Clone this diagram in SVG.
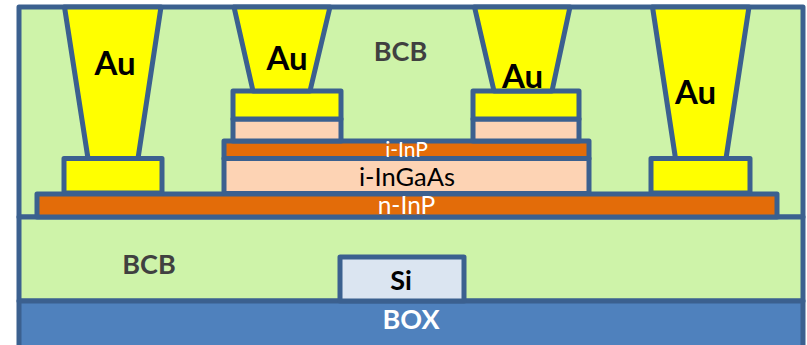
<svg xmlns="http://www.w3.org/2000/svg" width="807" height="345" viewBox="0 0 807 345">
<style>
.s{stroke:#3B608F;stroke-width:5;stroke-linejoin:round}
.g{fill:#CEF3A9}.y{fill:#FFFF00}.p{fill:#FDD3B4}.o{fill:#E36C09}
text{font-family:"Lato","Open Sans","Liberation Sans",sans-serif;text-anchor:middle}
.b{font-weight:700}
.au{font-size:33px;fill:#000;font-weight:700}
.bcb{font-size:27px;fill:#404040;font-weight:700}
.w{fill:#fff}
</style>
<rect width="807" height="345" fill="#fff"/>
<g id="bcb-upper"><rect class="s g" x="19" y="7" width="784" height="210"/><text class="bcb" x="400.500" y="61">BCB</text></g>
<g id="bcb-lower"><rect class="s g" x="19" y="217" width="784" height="84"/><text class="bcb" x="149" y="274">BCB</text></g>
<g id="box"><rect class="s" fill="#4F81BD" x="19" y="301" width="784" height="50"/><text class="b w" font-size="27" x="411" y="329">BOX</text></g>
<g id="si"><rect class="s" fill="#DBE5F1" x="340" y="257" width="124" height="44"/><text class="b" font-size="27" x="401" y="290">Si</text></g>
<g id="n-inp"><rect class="s o" x="37" y="194" width="740" height="23"/><text class="w" font-size="24.500" x="406.500" y="214">n-InP</text></g>
<g id="i-ingaas"><rect class="s p" x="224" y="158.500" width="365" height="35"/><text font-size="25.500" x="407" y="186">i-InGaAs</text></g>
<g id="i-inp"><rect class="s o" x="224" y="141" width="365" height="17.500"/><text class="w" font-size="21" x="406.500" y="157">i-InP</text></g>
<g id="contact-1"><rect class="s y" x="64" y="158.500" width="98" height="34.500"/><polygon class="s y" points="64.500,7 161,7 138,158.500 88,158.500"/><text class="au" x="115" y="75">Au</text></g>
<g id="contact-2"><rect class="s p" x="233" y="119" width="108" height="22"/><rect class="s y" x="233" y="91" width="108" height="28"/><polygon class="s y" points="234,7 330,7 310,91 253,91"/><text class="au" x="287" y="70">Au</text></g>
<g id="contact-3"><rect class="s p" x="473" y="119" width="106" height="22"/><rect class="s y" x="473" y="91" width="106" height="28"/><polygon class="s y" points="474.500,7 570,7 552,91 494,91"/><text class="au" x="522.500" y="88">Au</text></g>
<g id="contact-4"><rect class="s y" x="651" y="158.500" width="99" height="34.500"/><polygon class="s y" points="652.500,7 749,7 726,158.500 675.500,158.500"/><text class="au" x="695.500" y="104">Au</text></g>
</svg>
